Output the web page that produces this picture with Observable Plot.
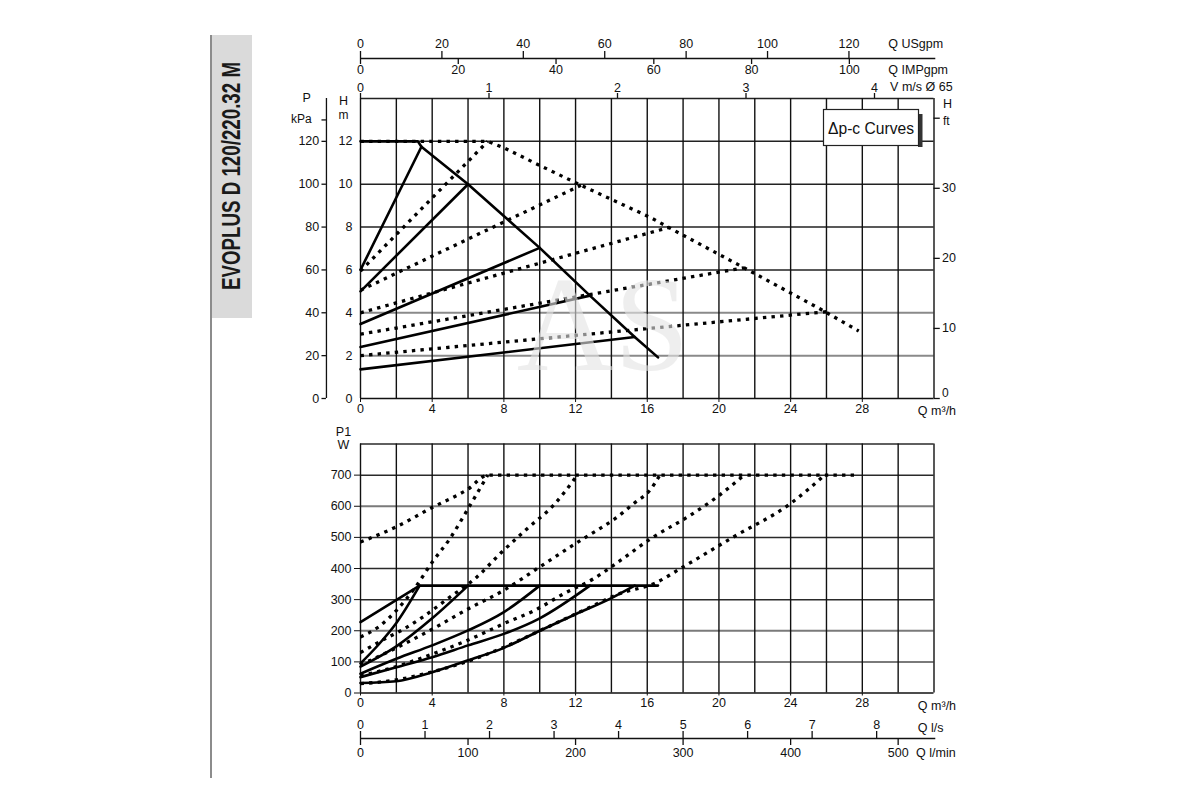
<!DOCTYPE html>
<html><head><meta charset="utf-8">
<script src="https://cdn.jsdelivr.net/npm/d3@7"></script>
<script src="https://cdn.jsdelivr.net/npm/@observablehq/plot@0.6"></script>
<style>
body{margin:0;background:#fff;}
#wrap{position:relative;width:1200px;height:800px;overflow:hidden;background:#fff;font-family:"Liberation Sans",Arial,sans-serif;}
#wrap svg{position:absolute;left:0;}
</style></head><body><div id="wrap"></div>
<script>
// ---------- tick / axis values ----------
const qGrid = d3.range(0, 33, 2);            // m³/h grid lines
const qTicks = [0, 4, 8, 12, 16, 20, 24, 28]; // m³/h labels
const hGrid = [2, 4, 6, 8, 10, 12, 14];
const hGray = [2, 4];
const hTicks = [0, 2, 4, 6, 8, 10, 12];
const kpaTicks = [0, 20, 40, 60, 80, 100, 120];
const ftTicks = [10, 20, 30];
const ftZero = [0];
const usgpmTicks = [0, 20, 40, 60, 80, 100, 120];
const impgpmTicks = [0, 20, 40, 60, 80, 100];
const vTicks = [0, 1, 2, 3, 4];
const pGrid = [100, 200, 300, 400, 500, 600, 700, 800];
const pGray = [100, 200, 600];
const pTicks = [0, 100, 200, 300, 400, 500, 600, 700];
const lsTicks = [0, 1, 2, 3, 4, 5, 6, 7, 8];
const lminTicks = [0, 100, 200, 300, 400, 500];
// unit conversions (as drawn) to m³/h or m
const US = 0.22712, IMP = 0.27277, VMS = 7.17, FT = 0.327, KPA = 0.1, LS = 3.6, LMIN = 0.06;

// ---------- top chart: H (m) vs Q (m³/h), [Q, H] ----------
const hSolidMax = [[0,12],[3.2,12],[3.4,11.75],[6,10],[10,7.03],[12.8,4.8],[15.3,2.87],[16.6,1.92]];
const hSolid1 = [[0,6],[3.4,11.75]];
const hSolid2 = [[0,5],[6,10]];
const hSolid3 = [[0,3.48],[10,7.03]];
const hSolid4 = [[0,2.4],[12.8,4.8]];
const hSolid5 = [[0,1.36],[15.3,2.87]];
const hDotMax = [[0,12],[7.1,12],[8,11.7],[9.7,11.0],[12.3,9.95],[16.2,8.44],[17.2,7.98],[21.4,6.1],[25.6,4.2],[27.8,3.15]];
const hDot1 = [[0,5.95],[7.1,12]];
const hDot2 = [[0,5.05],[12.3,9.95]];
const hDot3 = [[0,4.0],[17.2,7.98]];
const hDot4 = [[0,3.0],[21.4,6.1]];
const hDot5 = [[0,2.0],[26.0,4.05]];

// ---------- bottom chart: P1 (W) vs Q (m³/h), [Q, P1] ----------
const pSolidMax = [[0,228],[3.3,345],[16.6,345]];
const pSolid1 = [[0,95],[1,155],[2,225],[3.3,345]];
const pSolid2 = [[0,85],[2,150],[4,240],[6,345]];
const pSolid3 = [[0,62],[2,110],[4,153],[6,201],[8,260],[10,345]];
const pSolid4 = [[0,51],[2,83],[4,115],[6,153],[8,190],[10,240],[12.8,345]];
const pSolid5 = [[0,32],[2,38],[4,67],[6,105],[8,145],[10,200],[12,253],[14,305],[15.3,345]];
const pDotMax = [[0,485],[2,534],[4,596],[6,655],[7.1,700],[27.8,700]];
const pDotA = [[0,180],[1,212],[2,265],[3,335],[4,420],[5,497],[6,592],[7.1,700]];
const pDotB = [[0,130],[1.4,175],[2.4,205],[3.5,245],[4.8,300],[6.5,373],[7.8,448],[9.3,528],[10.8,605],[12.1,700]];
const pDotC = [[0,90],[2,145],[4,205],[6,270],[8,330],[10,405],[12,480],[13.4,530],[14.2,560],[15.25,609],[16.2,655],[16.7,700]];
const pDotD = [[0,55],[2,85],[4,125],[6,170],[8.2,228],[9.7,265],[11.35,319],[13,367],[14.5,426],[16.2,496],[18.4,571],[19.9,630],[21.4,700]];
const pDotE = [[0,30],[2,42],[4,68],[6,102],[8,147],[10,200],[12.3,262],[14.5,320],[16.4,352],[18,405],[20.8,501],[24,609],[25.9,700]];

// ---------- helpers ----------
const k = v => () => v;
const FONT = "Liberation Sans, Arial, sans-serif";
const solid = {x: d => d[0], y: d => d[1], stroke: "#000", strokeWidth: 2.6, strokeLinejoin: "round"};
const dotted = {x: d => d[0], y: d => d[1], stroke: "#000", strokeWidth: 3.3, strokeDasharray: "3.4,5.2", strokeLinecap: "butt"};
const solidP = {...solid, curve: "monotone-x"};
const dottedP = {...dotted, curve: "monotone-x"};

// ---------- top chart ----------
const kT = 300 / 14;                 // px per m
const upT = px => 14 + px / kT;      // px above frame top
const dnT = px => -px / kT;          // px below frame bottom
const topPlot = Plot.plot({
  width: 1200, height: 420,
  marginTop: 98, marginBottom: 22, marginLeft: 360, marginRight: 266.5,
  style: {background: "transparent", fontFamily: FONT, fontSize: "12.5px", color: "#111", overflow: "visible"},
  x: {domain: [0, 32], ticks: qTicks, tickSize: 4, tickPadding: 2, label: null},
  y: {domain: [0, 14], ticks: hTicks, tickSize: 0, tickPadding: 8, label: null},
  marks: [
    Plot.ruleY(hGrid.filter(d => !hGray.includes(d)), {x1: k(0), x2: k(32), stroke: "#222", strokeWidth: 1.5}),
    Plot.ruleY(hGray, {x1: k(0), x2: k(32), stroke: "#8a8a8a", strokeWidth: 2}),
    Plot.ruleX(qGrid, {y1: k(0), y2: k(14), stroke: "#111", strokeWidth: 1.4}),
    Plot.ruleY([0], {x1: k(0), x2: k(32), stroke: "#111", strokeWidth: 1.6}),
    // curves
    ...[hDotMax, hDot1, hDot2, hDot3, hDot4, hDot5].map(d => Plot.line(d, dotted)),
    ...[hSolidMax, hSolid1, hSolid2, hSolid3, hSolid4, hSolid5].map(d => Plot.line(d, solid)),
    // kPa axis (left)
    Plot.ruleX([-1.9], {y1: k(0), y2: k(14), stroke: "#111", strokeWidth: 1.3}),
    Plot.ruleY([...kpaTicks, 130].map(d => d * KPA), {x1: k(-2.15), x2: k(-1.9), stroke: "#111", strokeWidth: 1.3}),
    Plot.text(kpaTicks, {x: k(-2.3), y: d => d * KPA, text: d => String(d), textAnchor: "end", fontSize: 12.5}),
    Plot.text(["P"], {x: k(-3.0), y: k(upT(1)), text: d => d, fontSize: 12.5}),
    Plot.text(["kPa"], {x: k(-3.3), y: k(13.05), text: d => d, fontSize: 12}),
    Plot.text(["H"], {x: k(-0.95), y: k(upT(-2)), text: d => d, fontSize: 12.5}),
    Plot.text(["m"], {x: k(-0.95), y: k(13.2), text: d => d, fontSize: 12}),
    // ft axis (right)
    Plot.ruleY([0, ...ftTicks, 40].map(d => d * FT), {x1: k(32), x2: k(32.35), stroke: "#111", strokeWidth: 1.3}),
    Plot.text(ftTicks, {x: k(32.45), y: d => d * FT, text: d => String(d), textAnchor: "start", fontSize: 12.5}),
    Plot.text(ftZero, {x: k(32.45), y: d => d * FT, dy: -5, text: d => String(d), textAnchor: "start", fontSize: 12}),
    Plot.text(["H"], {x: k(32.5), y: k(13.75), text: d => d, textAnchor: "start", fontSize: 12.5}),
    Plot.text(["ft"], {x: k(32.5), y: k(12.95), text: d => d, textAnchor: "start", fontSize: 12}),
    // V m/s axis on frame top
    Plot.ruleX(vTicks, {x: d => d * VMS, y1: k(14), y2: k(upT(5)), stroke: "#111", strokeWidth: 1.3}),
    Plot.text(vTicks, {x: d => d * VMS, y: k(upT(11)), text: d => String(d), fontSize: 12.5}),
    // USgpm / IMPgpm axis
    Plot.ruleY([upT(40)], {x1: k(0), x2: k(32.1), stroke: "#111", strokeWidth: 1.5}),
    Plot.ruleX(usgpmTicks, {x: d => d * US, y1: k(upT(40)), y2: k(upT(47)), stroke: "#111", strokeWidth: 1.3}),
    Plot.ruleX(impgpmTicks, {x: d => d * IMP, y1: k(upT(40)), y2: k(upT(34)), stroke: "#111", strokeWidth: 1.3}),
    Plot.text(usgpmTicks, {x: d => d * US, y: k(upT(55)), text: d => String(d), fontSize: 12.5}),
    Plot.text(impgpmTicks, {x: d => d * IMP, y: k(upT(29)), text: d => String(d), fontSize: 12.5}),
    Plot.text(["Q USgpm"], {x: k(29.45), y: k(upT(55)), text: d => d, textAnchor: "start", fontSize: 12.5}),
    Plot.text(["Q IMPgpm"], {x: k(29.45), y: k(upT(29)), text: d => d, textAnchor: "start", fontSize: 12.5}),
    Plot.text(["V m/s Ø 65"], {x: k(29.55), y: k(upT(12)), text: d => d, textAnchor: "start", fontSize: 12.5}),
    Plot.text(["Q m³/h"], {x: k(31.1), y: k(dnT(12)), text: d => d, textAnchor: "start", fontSize: 12.5})
  ]
});

// ---------- bottom chart ----------
const kB = 249 / 800;                // px per W
const upB = px => 800 + px / kB;
const dnB = px => -px / kB;
const botPlot = Plot.plot({
  width: 1200, height: 380,
  marginTop: 23.5, marginBottom: 107.5, marginLeft: 360, marginRight: 266.5,
  style: {background: "transparent", fontFamily: FONT, fontSize: "12.5px", color: "#111", overflow: "visible"},
  x: {domain: [0, 32], ticks: qTicks, tickSize: 3, tickPadding: 2, label: null},
  y: {domain: [0, 800], ticks: pTicks, tickSize: 6, tickPadding: 3, label: null},
  marks: [
    Plot.ruleY(pGrid.filter(d => !pGray.includes(d)), {x1: k(0), x2: k(32), stroke: "#2a2a2a", strokeWidth: 1.5}),
    Plot.ruleY(pGray, {x1: k(0), x2: k(32), stroke: "#7a7a7a", strokeWidth: 2}),
    Plot.ruleX(qGrid, {y1: k(0), y2: k(800), stroke: "#111", strokeWidth: 1.4}),
    Plot.ruleY([0], {x1: k(0), x2: k(32), stroke: "#111", strokeWidth: 1.6}),
    ...[pDotMax, pDotA, pDotB, pDotC, pDotD, pDotE].map(d => Plot.line(d, dottedP)),
    ...[pSolidMax, pSolid1, pSolid2, pSolid3, pSolid4, pSolid5].map(d => Plot.line(d, d === pSolidMax ? solid : solidP)),
    Plot.text(["P1"], {x: k(-0.95), y: k(upB(12.5)), text: d => d, fontSize: 12.5}),
    Plot.text(["W"], {x: k(-0.95), y: k(upB(-1)), text: d => d, fontSize: 12.5}),
    Plot.text(["Q m³/h"], {x: k(31.1), y: k(dnB(12.5)), text: d => d, textAnchor: "start", fontSize: 12.5}),
    // l/s and l/min axis
    Plot.ruleY([dnB(45.5)], {x1: k(0), x2: k(32.1), stroke: "#111", strokeWidth: 1.5}),
    Plot.ruleX(lsTicks, {x: d => d * LS, y1: k(dnB(45.5)), y2: k(dnB(38.5)), stroke: "#111", strokeWidth: 1.3}),
    Plot.ruleX(lminTicks, {x: d => d * LMIN, y1: k(dnB(45.5)), y2: k(dnB(52.5)), stroke: "#111", strokeWidth: 1.3}),
    Plot.text(lsTicks, {x: d => d * LS, y: k(dnB(31.5)), text: d => String(d), fontSize: 12.5}),
    Plot.text(lminTicks, {x: d => d * LMIN, y: k(dnB(59.5)), text: d => String(d), fontSize: 12.5}),
    Plot.text(["Q l/s"], {x: k(31.1), y: k(dnB(34.5)), text: d => d, textAnchor: "start", fontSize: 12.5}),
    Plot.text(["Q l/min"], {x: k(31.0), y: k(dnB(60)), text: d => d, textAnchor: "start", fontSize: 12.5})
  ]
});

const wrap = document.getElementById("wrap");
topPlot.style.top = "0px";
botPlot.style.top = "420px";
wrap.appendChild(topPlot);
wrap.appendChild(botPlot);

// ---------- decorations ----------
const deco = d3.select(wrap).append("svg")
  .attr("width", 1200).attr("height", 800)
  .style("top", "0px").style("pointer-events", "none");
deco.append("line").attr("x1", 211).attr("x2", 211).attr("y1", 35).attr("y2", 778)
  .attr("stroke", "#8c8c8c").attr("stroke-width", 2);
deco.append("rect").attr("x", 212).attr("y", 35).attr("width", 40).attr("height", 283).attr("fill", "#dadada");
deco.append("text").attr("transform", "translate(240,290) rotate(-90) scale(1,1.55)")
  .attr("font-family", FONT).attr("font-weight", "bold").attr("font-size", 17)
  .attr("fill", "#1a1a1a").attr("textLength", 228).attr("lengthAdjust", "spacingAndGlyphs")
  .text("EVOPLUS D 120/220.32 M");
// legend box
deco.append("rect").attr("x", 918).attr("y", 114).attr("width", 4.5).attr("height", 33).attr("fill", "#333");
deco.append("rect").attr("x", 823.5).attr("y", 109.5).attr("width", 95).attr("height", 36)
  .attr("fill", "#fff").attr("stroke", "#222").attr("stroke-width", 1.2);
deco.append("text").attr("x", 871).attr("y", 133.5).attr("text-anchor", "middle")
  .attr("font-family", FONT).attr("font-size", 17).attr("fill", "#111")
  .attr("textLength", 86).attr("lengthAdjust", "spacingAndGlyphs").text("Δp-c Curves");
// watermark
deco.append("text").attr("x", 603).attr("y", 370).attr("text-anchor", "middle")
  .attr("font-family", "Liberation Serif, DejaVu Serif, serif").attr("font-size", 135)
  .attr("fill", "#e4e4e4").attr("opacity", 0.6).text("AS");
</script></body></html>
